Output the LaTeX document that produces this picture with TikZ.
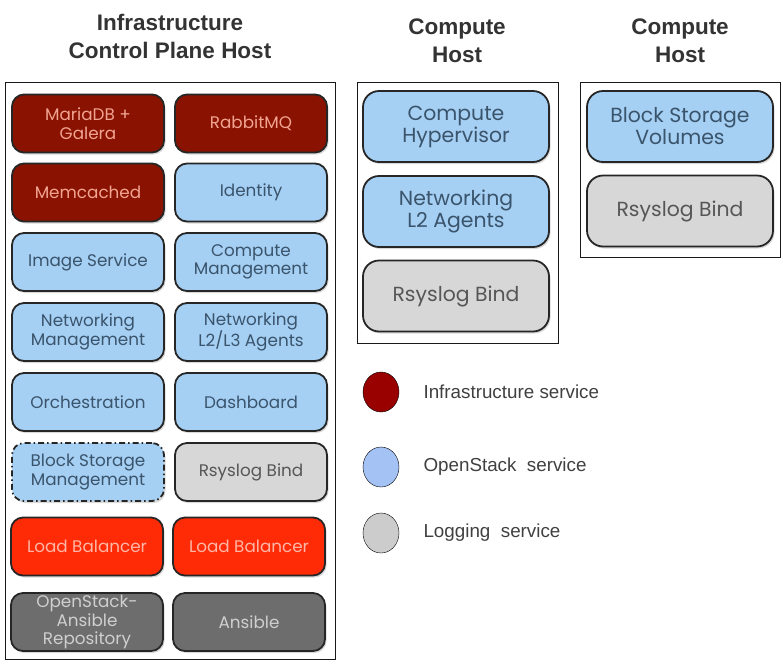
\documentclass[tikz,border=0pt]{standalone}
\usepackage{fontspec}
\setmainfont{Liberation Sans}
\newfontfamily\boxfont{Poppins}
\usetikzlibrary{shadows}

\definecolor{infrared}{HTML}{8A1200}
\definecolor{infratext}{HTML}{F2A493}
\definecolor{osblue}{HTML}{A5CFF3}
\definecolor{ostext}{HTML}{3A546C}
\definecolor{loggray}{HTML}{D7D7D7}
\definecolor{logtext}{HTML}{565656}
\definecolor{lbred}{HTML}{FF2B06}
\definecolor{lbtext}{HTML}{FFB6A6}
\definecolor{repogray}{HTML}{6D6D6D}
\definecolor{repotext}{HTML}{CFCFCF}
\definecolor{titlegray}{HTML}{333333}
\definecolor{legred}{HTML}{990000}
\definecolor{legblue}{HTML}{A4C2F4}
\definecolor{leggray}{HTML}{CCCCCC}

\begin{document}
\begin{tikzpicture}[x=1pt, y=-1pt,
    svc/.style = {draw=black!85, line width=1.8pt, rounded corners=12pt,
                  minimum width=152pt, minimum height=58pt, align=center,
                  inner sep=0pt, font=\boxfont\fontsize{16.8}{18.6}\selectfont,
                  drop shadow={shadow xshift=1.5pt, shadow yshift=-2pt, opacity=0.3}},
    bigsvc/.style = {svc, rounded corners=16pt, minimum width=186pt,
                  minimum height=71pt, font=\boxfont\fontsize{20.4}{22}\selectfont},
    infra/.style = {fill=infrared, text=infratext},
    ossvc/.style = {fill=osblue, text=ostext},
    logsvc/.style = {fill=loggray, text=logtext},
    lbsvc/.style = {fill=lbred, text=lbtext},
    reposvc/.style = {fill=repogray, text=repotext},
    frame/.style = {draw=black!90, line width=1pt},
    hosttitle/.style = {align=center, text=titlegray,
                  font=\bfseries\fontsize{22.5}{28}\selectfont},
    legtext/.style = {anchor=west, text=black!75, font=\fontsize{18.8}{20}\selectfont}]

  \useasboundingbox (0,0) rectangle (783,670);

  % host titles
  \node[hosttitle] (infratitle) at (170,36) {Infrastructure\\Control Plane Host};
  \node[hosttitle] (comptitlea) at (457,41) {Compute\\Host};
  \node[hosttitle] (comptitleb) at (680,41) {Compute\\Host};

  % host frames
  \draw[frame] (5,82) rectangle (335,659);
  \draw[frame] (357,82) rectangle (558,343);
  \draw[frame] (580,82) rectangle (780,257);

  % infrastructure control plane host
  \node[svc, infra]   (mariadb)   at (88,123.5)  {MariaDB +\\Galera};
  \node[svc, infra]   (rabbitmq)  at (251,123.5) {RabbitMQ};
  \node[svc, infra]   (memcached) at (88,192.5)  {Memcached};
  \node[svc, ossvc]   (identity)  at (251,192.5) {Identity};
  \node[svc, ossvc]   (image)     at (88,262)    {Image Service};
  \node[svc, ossvc]   (compmgmt)  at (251,262)   {Compute\\Management};
  \node[svc, ossvc]   (netmgmt)   at (88,332)    {Networking\\Management};
  \node[svc, ossvc]   (netagents) at (251,332)   {Networking\\L2/L3 Agents};
  \node[svc, ossvc]   (orchestr)  at (88,402)    {Orchestration};
  \node[svc, ossvc]   (dashboard) at (251,402)   {Dashboard};
  \node[svc, ossvc, dash pattern=on 6pt off 3pt on 1.5pt off 3pt]
                      (blockmgmt) at (88,472)    {Block Storage\\Management};
  \node[svc, logsvc]  (rsyslogc)  at (251,472)   {Rsyslog Bind};
  \node[svc, lbsvc]   (lbleft)    at (87,546.5)  {Load Balancer};
  \node[svc, lbsvc]   (lbright)   at (249,546.5) {Load Balancer};
  \node[svc, reposvc] (osarepo)   at (87,622)    {OpenStack-\\Ansible\\Repository};
  \node[svc, reposvc] (ansible)   at (249,622)   {Ansible};

  % compute host
  \node[bigsvc, ossvc]  (hypervisor) at (456,126.5) {Compute\\Hypervisor};
  \node[bigsvc, ossvc]  (l2agents)   at (456,211.5) {Networking\\L2 Agents};
  \node[bigsvc, logsvc] (rsysloga)   at (456,296)   {Rsyslog Bind};

  % block storage host
  \node[bigsvc, ossvc]  (volumes)    at (680,126.5) {Block Storage\\Volumes};
  \node[bigsvc, logsvc] (rsyslogb)   at (680,211)   {Rsyslog Bind};

  % legend
  \draw[fill=legred]  (381,392) ellipse (18 and 20);
  \draw[fill=legblue] (381,467) ellipse (18 and 20);
  \draw[fill=leggray] (381,533) ellipse (18 and 20);
  \node[legtext] (leginfra) at (420,392) {Infrastructure service};
  \node[legtext] (legos)    at (420,467) {OpenStack\ \ service};
  \node[legtext] (leglog)   at (420,533) {Logging\ \ service};
\end{tikzpicture}
\end{document}
